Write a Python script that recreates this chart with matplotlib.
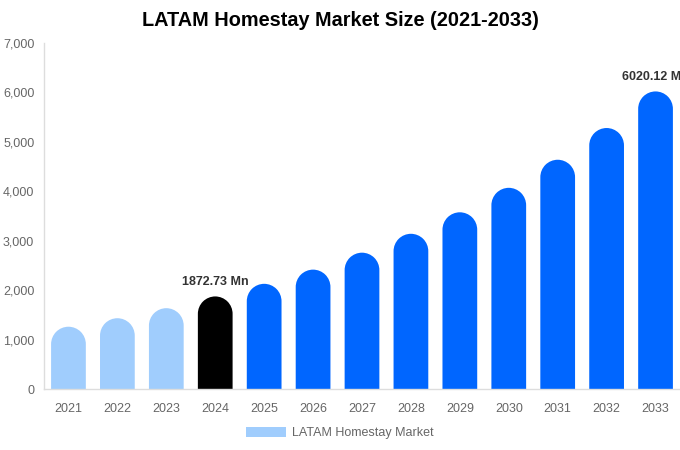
import matplotlib
matplotlib.use('Agg')
import numpy as np
import matplotlib.pyplot as plt
from matplotlib.patches import PathPatch, Patch
from matplotlib.path import Path
from matplotlib.ticker import FuncFormatter

plt.rcParams['font.family'] = ['Liberation Sans', 'DejaVu Sans']

# datos
years = ['2021', '2022', '2023', '2024', '2025', '2026', '2027',
         '2028', '2029', '2030', '2031', '2032', '2033']
values = [1260, 1432, 1635, 1872.73, 2128, 2415, 2758,
          3140, 3575, 4070, 4638, 5280, 6020.12]
labels = {3: '1872.73 Mn', 12: '6020.12 Mn'}

LIGHT = '#a0cdfd'
BASE = '#000000'
BLUE = '#0066ff'
colors = [LIGHT] * 3 + [BASE] + [BLUE] * 9

fig = plt.figure(figsize=(6.8, 4.5), dpi=100)
ax = fig.add_axes([44 / 680, 1 - 389 / 450, 636 / 680, 346 / 450])

ax.set_xlim(-0.5, len(years) - 0.5)
ax.set_ylim(0, 7000)

bar_w = 0.71
bars = ax.bar(range(len(years)), values, width=bar_w, color=colors)

# unidades y por unidad x, para que la punta sea un semicírculo
x_px = ax.get_position().width * 680 / len(years)
y_px = ax.get_position().height * 450 / 7000
aspect = x_px / y_px
rx = bar_w / 2
ry = rx * aspect


def rounded_bar(x0, h):
    """Barra con punta semicircular, como un solo path."""
    cx, cy = x0 + rx, h - ry
    arc = Path.arc(0, 180)
    verts = arc.vertices * [rx, ry] + [cx, cy]
    codes = list(arc.codes)
    codes[0] = Path.LINETO
    v = [(x0, 0), (x0 + bar_w, 0)] + [tuple(p) for p in verts] + [(x0, 0)]
    c = [Path.MOVETO, Path.LINETO] + codes + [Path.CLOSEPOLY]
    return Path(v, c)


for rect, col in zip(bars, colors):
    x0 = rect.get_x()
    h = rect.get_height()
    rect.remove()
    ax.add_patch(PathPatch(rounded_bar(x0, h), facecolor=col, edgecolor='none'))

for i, txt in labels.items():
    ax.annotate(txt, (i, values[i]), xytext=(0, 6), textcoords='offset points',
                ha='center', va='bottom', fontsize=9, fontweight='bold',
                color='#333333', annotation_clip=False)

ax.set_xticks(range(len(years)))
ax.set_xticklabels(years)
ax.set_yticks(range(0, 7001, 1000))
ax.yaxis.set_major_formatter(FuncFormatter(lambda v, p: f'{int(v):,}'))
ax.tick_params(axis='both', length=0, labelsize=9, colors='#666666')
ax.tick_params(axis='x', pad=10)
ax.tick_params(axis='y', pad=7)

for side in ['top', 'right']:
    ax.spines[side].set_visible(False)
for side in ['left', 'bottom']:
    ax.spines[side].set_color('#dddddd')
    ax.spines[side].set_linewidth(1)

fig.suptitle('LATAM Homestay Market Size (2021-2033)', x=0.5, y=1 - 11 / 450,
             va='top', fontsize=14.3, fontweight='bold')

fig.legend(handles=[Patch(facecolor=LIGHT, edgecolor='none')],
           labels=['LATAM Homestay Market'], loc='center',
           bbox_to_anchor=(0.5, 1 - 433 / 450), frameon=False,
           fontsize=9, labelcolor='#666666', handlelength=3.2,
           handleheight=0.95, handletextpad=0.5)

fig.savefig('out.png', dpi=100)
